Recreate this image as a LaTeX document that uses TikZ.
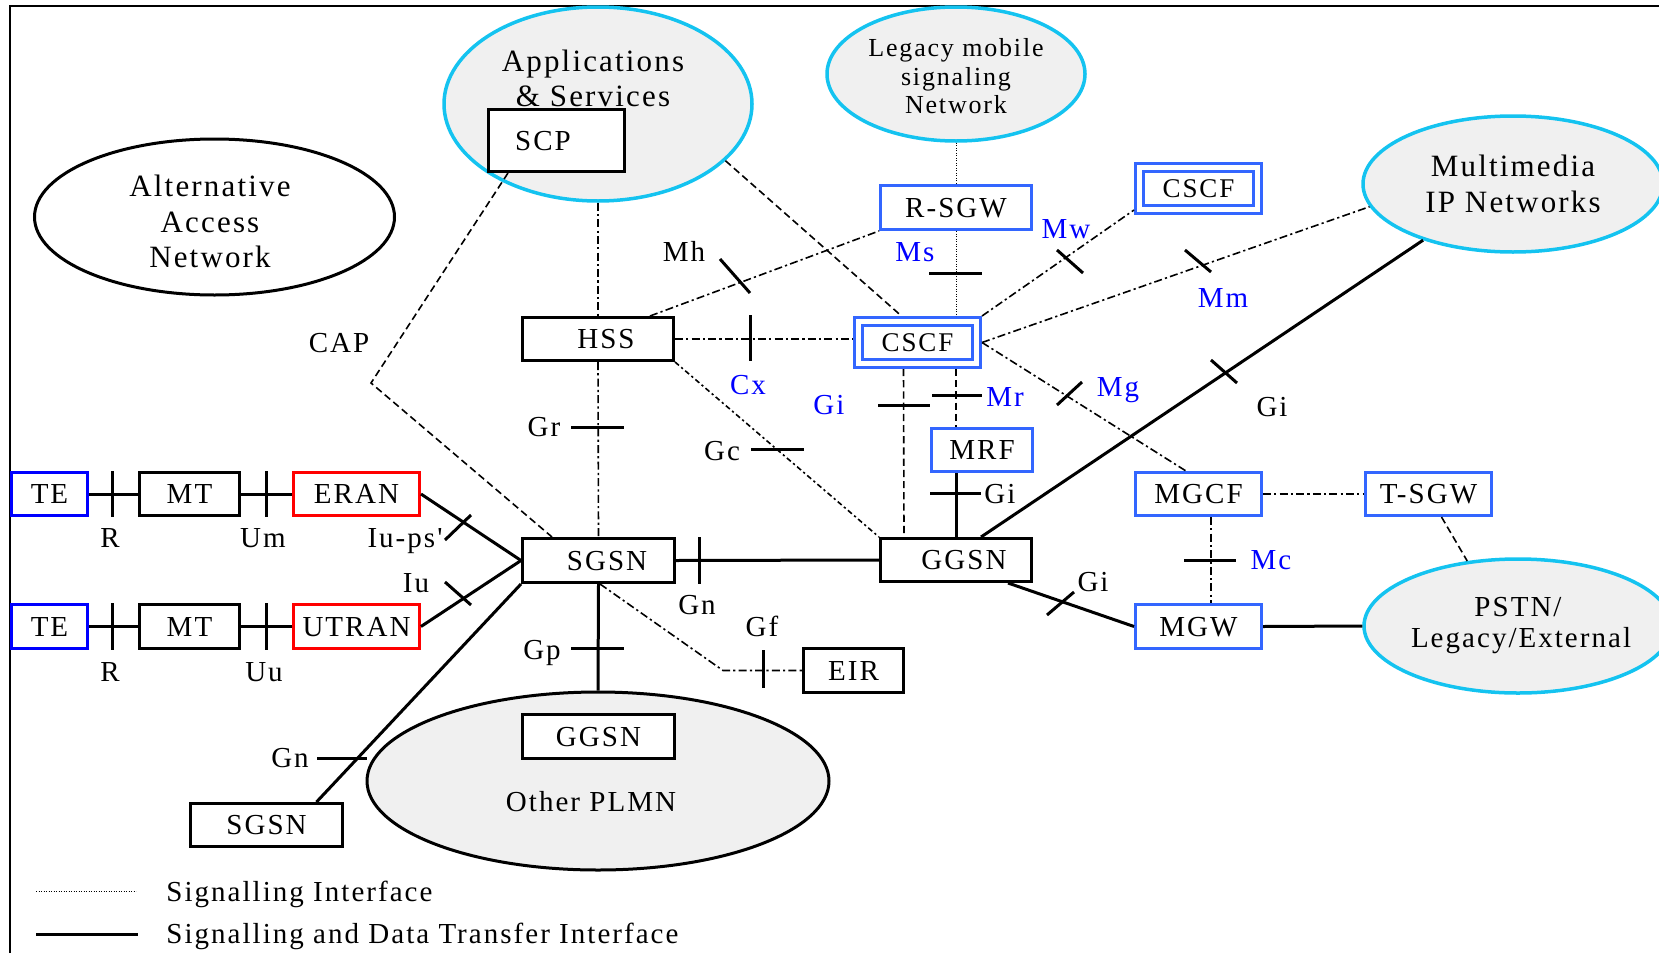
\documentclass[tikz,border=0pt]{standalone}
\usepackage{fontspec}
\setmainfont{Liberation Serif}[LetterSpace=7]
\newfontfamily\plainserif{Liberation Serif}[LetterSpace=7,Ligatures=TeXOff]
\usetikzlibrary{shapes.geometric,calc}
\definecolor{mblue}{RGB}{51,102,255}
\definecolor{tblue}{RGB}{0,0,255}
\definecolor{lblue}{RGB}{0,0,255}
\definecolor{rred}{RGB}{255,0,0}
\definecolor{ecyan}{RGB}{20,195,240}
\definecolor{egray}{RGB}{240,240,240}
\newcommand\myfs{\fontsize{14.5}{17}\selectfont}
\newcommand\mysm{\fontsize{13}{15}\selectfont}
\newcommand\mybig{\fontsize{15.5}{18}\selectfont}
\begin{document}
\begin{tikzpicture}[x=0.5pt,y=-0.5pt,
  every node/.style={font=\myfs,inner sep=0pt,text height=9.6pt,text depth=0pt},
  box/.style={draw,line width=1.5pt,fill=white,minimum height=21.5pt},
  bbox/.style={box,draw=mblue},
  tbox/.style={box,draw=tblue},
  rbox/.style={box,draw=rred},
  dbox/.style={draw=mblue,line width=1.5pt,double=white,double distance=2.5pt,fill=white,minimum width=59pt,minimum height=21pt,outer sep=2.75pt,font=\fontsize{13.5}{16}\selectfont,text height=8.9pt},
  ell/.style={ellipse,line width=1.75pt,draw=ecyan,fill=egray},
  con/.style={line width=1.5pt},
  tk/.style={line width=1.5pt},
  dd/.style={line width=0.8pt,dash pattern=on 4pt off 1.6pt on 1.1pt off 1.6pt},
  sdd/.style={line width=0.8pt,dash pattern=on 2.6pt off 1.5pt on 1.1pt off 1.5pt},
  dsh/.style={line width=0.8pt,dash pattern=on 3.6pt off 2pt},
  dots/.style={line width=0.45pt,dash pattern=on 0.45pt off 0.8pt},
  bl/.style={text=lblue},
  big/.style={font=\mybig,text height=10.3pt},
  sm/.style={font=\mysm,text height=8.6pt}
]
\useasboundingbox (0,0) rectangle (1659,953);
% frame
\draw[line width=1pt] (10,953) -- (10,6) -- (1659,6);

% ellipses
\node[ell,minimum width=154pt,minimum height=97pt] (apps) at (598,104) {};
\node[ell,minimum width=129pt,minimum height=67pt] (leg) at (956,74) {};
\node[ell,minimum width=150pt,minimum height=68pt] (mm) at (1513,184) {};
\node[ell,minimum width=154pt,minimum height=67pt] (pstn) at (1518,626) {};
\node[ellipse,draw,line width=1.5pt,fill=white,minimum width=180pt,minimum height=78pt] (alt) at (214.5,217) {};
\node[ellipse,draw,line width=1.5pt,fill=egray,minimum width=231pt,minimum height=89pt] (oth) at (598,781) {};

% ellipse texts
\node[big] (apps1) at (593,61) {Applications};
\node[big] (apps2) at (593,96) {\& Services};
\node[sm] (leg1) at (956,48) {Legacy mobile};
\node[sm] (leg2) at (956,77) {signaling};
\node[sm] (leg3) at (956,105) {Network};
\node[big] (alt1) at (210,186) {Alternative};
\node[big] (alt2) at (210,222) {Access};
\node[big] (alt3) at (210,257) {Network};
\node[big] (mm1) at (1513,166) {Multimedia};
\node[big] (mm2) at (1513,202) {IP Networks};
\node (ps1) at (1518,607) {PSTN/};
\node (ps2) at (1521,638) {Legacy/External};
\node (oth1) at (591,802) {Other PLMN};

% boxes
\node[box,minimum width=68pt,minimum height=31pt] (scp) at (556.5,140.5) {SCP\kern13.5pt};
\node[box,minimum width=75.5pt] (hss) at (598,339) {\kern8pt HSS};
\node[bbox,minimum width=75.5pt,minimum height=22pt] (rsgw) at (956,207.5) {R-SGW};
\node[dbox] (cscf2) at (1198.5,188.5) {CSCF};
\node[dbox] (cscf) at (917.5,342.5) {CSCF};
\node[bbox,minimum width=50.5pt] (mrf) at (982,450) {MRF};
\node[box,minimum width=75.5pt] (ggsn) at (956,560) {\kern8pt GGSN};
\node[bbox,minimum width=63pt] (mgcf) at (1198.5,494) {MGCF};
\node[bbox,minimum width=63pt] (tsgw) at (1428.5,494) {T-SGW};
\node[bbox,minimum width=63pt,minimum height=22pt] (mgw) at (1198.5,626.5) {MGW};
\node[tbox,minimum width=38pt] (te1) at (49.5,494) {TE};
\node[box,minimum width=50pt] (mt1) at (189.5,494) {MT};
\node[rbox,minimum width=63pt] (eran) at (356.5,494) {ERAN};
\node[tbox,minimum width=38pt,minimum height=22pt] (te2) at (49.5,626.5) {TE};
\node[box,minimum width=50pt,minimum height=22pt] (mt2) at (189.5,626.5) {MT};
\node[rbox,minimum width=63pt,minimum height=22pt] (utran) at (356.5,626.5) {UTRAN};
\node[box,minimum width=76pt,minimum height=22pt] (sgsn) at (598.5,560.5) {\kern8.5pt SGSN};
\node[box,minimum width=50pt,minimum height=22pt] (eir) at (853.5,670.5) {EIR};
\node[box,minimum width=76pt,minimum height=22pt] (ggsn2) at (598.5,736.5) {GGSN};
\node[box,minimum width=76pt] (sgsn2) at (266.5,825) {SGSN};

% bend coordinates
\coordinate (capbend) at (371,383);
\coordinate (eirbend) at (723,670.5);

% signalling and data connectors
\draw[con] (te1.east) -- (mt1.west);
\draw[con] (mt1.east) -- (eran.west);
\draw[con] (te2.east) -- (mt2.west);
\draw[con] (mt2.east) -- (utran.west);
\draw[con] (eran.east) -- (sgsn.west);
\draw[con] (utran.east) -- (sgsn.west);
\draw[con] (sgsn.east) -- (ggsn.west);
\draw[con] (sgsn.south west) -- ($(sgsn2.north)+(50,0)$);
\draw[con] (sgsn.south) -- (oth.north);
\draw[con] ($(mrf.south)+(-26,0)$) -- (ggsn.north);
\draw[con] ($(ggsn.north)+(25,0)$) -- (mm.212);
\draw[con] ($(ggsn.south)+(52,0)$) -- (mgw.west);
\draw[con] (mgw.east) -- (pstn.west);

% signalling connectors
\draw[dd] (apps.south) -- (hss.north);
\draw[dd] (hss.south) -- (sgsn.north);
\draw[dd] (hss.east) -- (cscf.west |- hss.east);
\draw[dd] ($(hss.north east)+(-25,0)$) -- (rsgw.south west);
\draw[sdd] (hss.south east) -- (ggsn.north west);
\draw[dsh] (apps.336) -- ($(cscf.north)+(-16,0)$);
\draw[dd] (cscf.north east) -- ($(cscf2.south west)+(0,-5)$);
\draw[dd] (cscf.east) -- (mm.189);
\draw[dd] (cscf.east) -- ($(mgcf.north)+(-12.5,0)$);
\draw[dd] (mgcf.east) -- (tsgw.west);
\draw[dd] ($(mgcf.south)+(12.5,0)$) -- ($(mgw.north)+(12.5,0)$);
\draw[dd] ($(sgsn.south)+(1.5,0)$) -- (eirbend) -- (eir.west);
\draw[dsh] ($(scp.south west)+(21,0)$) -- (capbend) -- ($(sgsn.north west)+(31,0)$);
\draw[dsh] ($(cscf.south)+(-14,0)$) -- ($(ggsn.north)+(-52,0)$);
\draw[dsh] ($(cscf.south)+(38.5,0)$) -- ($(mrf.north)+(-26,0)$);
\draw[dsh] ($(tsgw.south)+(13,0)$) -- (pstn.128);
\draw[dots] (leg.south) -- (rsgw.north);
\draw[dots] (rsgw.south) -- ($(cscf.north)+(38.5,0)$);

% interface ticks
\draw[tk] (112,471) -- (112,517);
\draw[tk] (266,471) -- (266,517);
\draw[tk] (112,603) -- (112,650);
\draw[tk] (266,603) -- (266,650);
\draw[tk] (445,540) -- (471,515);
\draw[tk] (445,582) -- (471,605);
\draw[tk] (699,537) -- (699,584);
\draw[tk] (317,758) -- (367,758);
\draw[tk] (571,648) -- (624,648);
\draw[tk] (571,427) -- (624,427);
\draw[tk] (750,315) -- (750,361);
\draw[tk] (720,259) -- (750,293);
\draw[tk] (751,449) -- (804,449);
\draw[tk] (763,650) -- (763,688);
\draw[tk] (929,273) -- (982,273);
\draw[tk] (1057,250) -- (1083,273);
\draw[tk] (1185,250) -- (1211,272);
\draw[tk] (1057,405) -- (1082,382);
\draw[tk] (878,405) -- (930,405);
\draw[tk] (932,395) -- (982,395);
\draw[tk] (930,493) -- (981,493);
\draw[tk] (1211,360) -- (1237,383);
\draw[tk] (1047,615) -- (1074,592);
\draw[tk] (1184,560) -- (1236,560);

% interface labels
\node (lR1) at (110,538) {R};
\node (lUm) at (263,538) {Um};
\node[font={\plainserif\myfs}] (lIups) at (405,538) {Iu-ps'};
\node (lIu) at (416,583) {Iu};
\node (lR2) at (110,672) {R};
\node (lUu) at (264,672) {Uu};
\node (lGr) at (544,427) {Gr};
\node (lGp) at (542,650) {Gp};
\node (lGn1) at (697,605) {Gn};
\node (lGf) at (762,627) {Gf};
\node (lGn2) at (290,758) {Gn};
\node (lGc) at (722,451) {Gc};
\node (lMh) at (684,252) {Mh};
\node (lCAP) at (339,343) {CAP};
\node (lGi1) at (1272,407) {Gi};
\node (lGi2) at (1000,494) {Gi};
\node (lGi3) at (1093,582) {Gi};
\node[bl] (lCx) at (748,385) {Cx};
\node[bl] (lGi4) at (829,405) {Gi};
\node[bl] (lMs) at (915,252) {Ms};
\node[bl] (lMw) at (1066,229) {Mw};
\node[bl] (lMm) at (1223,298) {Mm};
\node[bl] (lMg) at (1118,387) {Mg};
\node[bl] (lMr) at (1005,397) {Mr};
\node[bl] (lMc) at (1271,560) {Mc};

% legend
\coordinate (lga) at (36,891);
\coordinate (lgb) at (136,891);
\coordinate (lgc) at (36,934);
\coordinate (lgd) at (138,934);
\draw[dots] (lga) -- (lgb);
\draw[con] (lgc) -- (lgd);
\node[anchor=west] (lg1) at (166,892) {Signalling Interface};
\node[anchor=west] (lg2) at (166,934) {Signalling and Data Transfer Interface};
\end{tikzpicture}
\end{document}
